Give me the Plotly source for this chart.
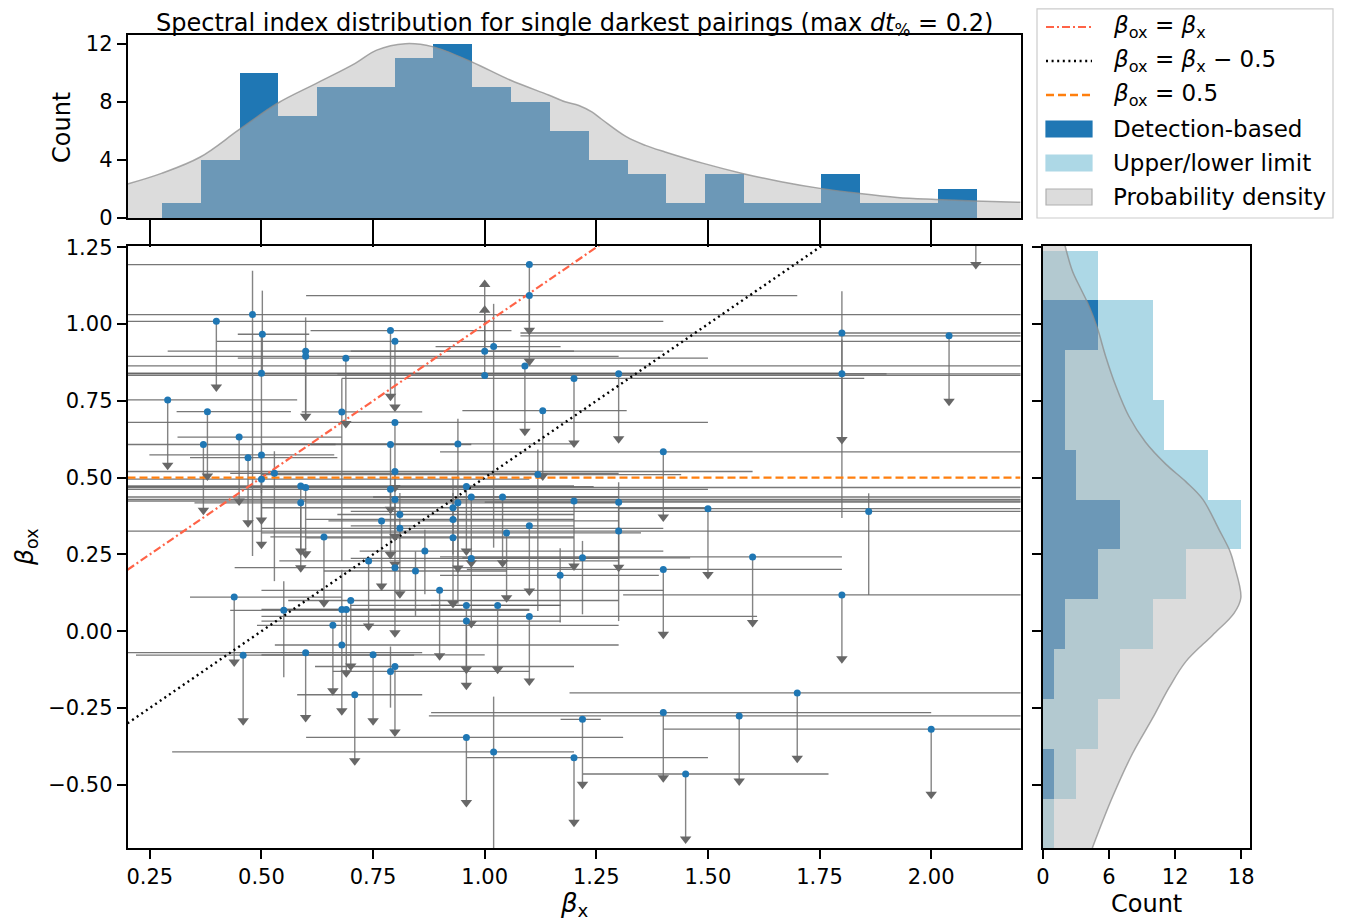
import numpy as np
import plotly.graph_objects as go

OFF = 8  # page body margin
W, H = 1347 - OFF, 921 - OFF
def px(v): return (v - OFF) / W
def py(v): return 1 - (v - OFF) / H

FONT = "DejaVu Sans"

# ---------------- data ----------------
# top marginal histogram (beta_x, detection-based)
top_edges = [0.276, 0.363, 0.450, 0.537, 0.624, 0.711, 0.797, 0.884, 0.971, 1.058, 1.145,
             1.232, 1.319, 1.406, 1.493, 1.580, 1.666, 1.753, 1.840, 1.927, 2.014, 2.101]
top_counts = [1, 4, 10, 7, 9, 9, 11, 12, 9, 8, 6, 4, 3, 1, 3, 1, 1, 3, 1, 1, 2]

top_kde_x = [0.200, 0.276, 0.363, 0.449, 0.536, 0.623, 0.710, 0.758, 0.822, 0.883, 0.970,
             1.057, 1.143, 1.180, 1.211, 1.240, 1.262, 1.317, 1.360, 1.404, 1.490, 1.577,
             1.664, 1.751, 1.837, 1.924, 2.011, 2.097, 2.200]
top_kde_y = [2.34, 3.07, 4.20, 6.06, 7.90, 9.27, 10.65, 11.56, 12.00, 11.80, 10.76,
             9.50, 8.47, 8.00, 7.75, 7.30, 6.80, 5.60, 5.00, 4.55, 3.76, 3.07,
             2.50, 2.04, 1.70, 1.42, 1.28, 1.17, 1.08]

# right marginal histogram (beta_ox), stacked
right_edges = [-0.706, -0.544, -0.381, -0.219, -0.057, 0.106, 0.268, 0.430, 0.592,
               0.755, 0.917, 1.079, 1.241]
right_det = [0, 1, 0, 1, 2, 5, 7, 3, 2, 2, 5, 0]
right_lim = [1, 2, 5, 6, 8, 8, 11, 12, 9, 8, 5, 5]

right_kde_count = [2.00, 2.67, 3.42, 4.18, 4.94, 5.70, 6.60, 7.80, 9.30, 11.15, 12.97,
                   14.50, 16.00, 17.00, 17.36, 17.97, 17.36, 15.40, 12.97, 11.45, 9.94,
                   8.12, 6.30, 4.48]
right_kde_y = [1.256, 1.173, 1.116, 1.059, 0.987, 0.894, 0.800, 0.700, 0.616, 0.544, 0.487,
               0.430, 0.330, 0.259, 0.216, 0.109, 0.059, -0.013, -0.099, -0.184, -0.284,
               -0.399, -0.541, -0.706]

# scatter: beta_x, beta_ox, x-range, limit kind, y-range
beta_x = [0.290, 0.379, 0.370, 0.450, 0.399, 0.480, 0.502, 0.500, 0.599, 0.599,
          0.689, 0.680, 0.789, 0.799, 0.799, 0.789, 0.470, 0.500, 0.500, 0.529,
          0.588, 0.599, 0.588, 0.640, 0.439, 0.550, 0.660, 0.680, 0.690, 0.700,
          0.680, 0.599, 0.459, 0.740, 0.769, 0.789, 0.799, 0.799, 0.810, 0.810,
          0.799, 0.845, 0.866, 0.709, 0.750, 0.799, 0.789, 1.100, 1.100, 1.000,
          1.000, 1.020, 1.090, 1.200, 1.300, 1.130, 0.940, 1.800, 1.800, 2.040,
          2.100, 1.400, 1.119, 0.959, 0.940, 0.929, 0.929, 0.929, 0.970, 1.040,
          0.970, 1.049, 1.100, 1.200, 1.300, 1.300, 1.219, 1.169, 1.400, 1.500,
          0.899, 0.959, 0.959, 1.029, 1.100, 1.860, 1.600, 1.800, 0.959, 1.020,
          1.219, 1.200, 1.400, 1.450, 1.570, 1.700, 2.000]
beta_ox = [0.753, 0.715, 0.608, 0.632, 1.009, 1.031, 0.967, 0.840, 0.912, 0.895,
           0.889, 0.714, 0.979, 0.944, 0.680, 0.608, 0.565, 0.574, 0.495, 0.514,
           0.473, 0.468, 0.418, 0.307, 0.111, 0.068, 0.019, 0.071, 0.071, 0.100,
           -0.045, -0.070, -0.078, 0.229, 0.359, 0.462, 0.520, 0.429, 0.380, 0.335,
           0.207, 0.196, 0.261, -0.207, -0.077, -0.115, -0.131, 1.194, 1.093, 0.912,
           0.833, 0.927, 0.864, 0.823, 0.838, 0.718, 0.610, 0.971, 0.838, 0.962,
           1.410, 0.584, 0.510, 0.471, 0.418, 0.402, 0.364, 0.304, 0.437, 0.437,
           0.237, 0.320, 0.343, 0.424, 0.420, 0.326, 0.239, 0.182, 0.201, 0.399,
           0.133, 0.084, 0.033, 0.084, 0.048, 0.390, 0.242, 0.118, -0.346, -0.393,
           -0.287, -0.412, -0.265, -0.465, -0.276, -0.201, -0.319]
beta_x_lo = [0.15, 0.310, 0.15, 0.312, 0.15, 0.15, 0.447, 0.15, 0.290, 0.15,
             0.447, 0.590, 0.610, 0.400, 0.15, 0.610, 0.340, 0.249, 0.15, 0.430,
             0.15, 0.15, 0.350, 0.520, 0.340, 0.430, 0.490, 0.550, 0.500, 0.560,
             0.530, 0.200, 0.219, 0.540, 0.650, 0.15, 0.15, 0.15, 0.670, 0.500,
             0.440, 0.640, 0.720, 0.580, 0.500, 0.620, 0.660, 0.15, 0.600, 0.700,
             0.15, 0.890, 0.15, 0.680, 0.15, 0.950, 0.500, 1.080, 0.670, 1.080,
             1.900, 0.900, 0.500, 0.15, 0.600, 0.500, 0.600, 0.600, 0.15, 0.750,
             0.700, 0.500, 0.700, 0.15, 1.000, 0.15, 0.950, 0.900, 0.960, 1.300,
             0.500, 0.880, 0.500, 0.700, 0.500, 0.700, 0.900, 1.310, 0.600, 0.300,
             1.170, 0.960, 0.880, 1.220, 0.875, 1.190, 1.400]
beta_x_hi = [0.580, 0.566, 0.666, 0.680, 1.400, 2.30, 0.607, 1.800, 1.200, 1.300,
             1.500, 0.860, 1.060, 2.30, 1.500, 0.970, 0.670, 0.663, 1.100, 1.300,
             1.200, 2.30, 0.590, 1.200, 0.680, 1.100, 1.300, 0.950, 1.100, 1.300,
             1.300, 0.860, 0.842, 1.300, 1.300, 1.500, 1.600, 2.30, 1.200, 1.400,
             1.200, 1.050, 1.400, 0.860, 1.000, 1.200, 1.100, 2.30, 1.700, 1.400,
             2.30, 1.170, 2.30, 1.850, 2.30, 1.318, 1.200, 2.30, 1.900, 2.30,
             2.30, 2.30, 1.440, 1.244, 1.300, 1.500, 1.200, 1.200, 2.30, 1.300,
             1.300, 1.350, 1.200, 2.30, 2.30, 2.30, 1.460, 1.390, 1.800, 2.30,
             1.400, 1.170, 1.170, 1.170, 1.610, 2.30, 1.800, 2.30, 1.310, 1.200,
             1.260, 1.500, 2.000, 1.770, 2.30, 2.30, 2.30]
limit_kind = ['u', 'u', 'u', 'u', 'u', 'd', 'd', 'd', 'u', 'd',
              'u', 'd', 'u', 'u', 'u', 'u', 'u', 'u', 'u', 'd',
              'u', 'u', 'u', 'u', 'u', 'd', 'u', 'd', 'u', 'u',
              'u', 'u', 'u', 'u', 'u', 'u', 'u', 'u', 'd', 'u',
              'u', 'd', 'd', 'u', 'u', 'u', 'd', 'u', 'u', 'l',
              'l', 'd', 'u', 'u', 'u', 'u', 'd', 'u', 'd', 'u',
              'u', 'u', 'd', 'u', 'u', 'd', 'd', 'u', 'u', 'u',
              'u', 'u', 'u', 'u', 'u', 'd', 'd', 'd', 'u', 'u',
              'u', 'u', 'u', 'u', 'u', 'd', 'u', 'u', 'u', 'd',
              'u', 'u', 'u', 'u', 'u', 'u', 'u']
beta_ox_lo = [0.540, 0.505, 0.394, 0.424, 0.795, 0.245, 0.840, 0.450, 0.700, 0.700,
              0.676, 0.229, 0.765, 0.730, 0.468, 0.397, 0.353, 0.362, 0.283, 0.163,
              0.261, 0.252, 0.207, 0.093, -0.100, -0.150, -0.194, -0.050, -0.135, -0.113,
              -0.259, -0.281, -0.292, 0.017, 0.147, 0.250, 0.308, 0.218, 0.300, 0.122,
              -0.005, 0.050, 0.120, -0.422, -0.292, -0.328, -0.249, 0.980, 0.879, 0.912,
              0.833, 0.272, 0.651, 0.613, 0.627, 0.505, 0.089, 0.624, 0.369, 0.749,
              1.194, 0.372, 0.066, 0.261, 0.206, 0.300, 0.250, 0.090, 0.223, 0.223,
              0.025, 0.109, 0.131, 0.212, 0.208, 0.033, 0.055, 0.028, -0.010, 0.185,
              -0.080, -0.124, -0.176, -0.124, -0.162, 0.118, 0.028, -0.090, -0.558, -0.800,
              -0.498, -0.622, -0.477, -0.677, -0.488, -0.414, -0.531]
beta_ox_hi = [0.753, 0.715, 0.608, 0.632, 1.009, 1.174, 1.109, 0.967, 0.912, 1.022,
              0.889, 0.823, 0.979, 0.944, 0.680, 0.608, 0.565, 0.574, 0.495, 0.586,
              0.473, 0.468, 0.418, 0.307, 0.111, 0.163, 0.019, 0.200, 0.071, 0.100,
              -0.045, -0.070, -0.078, 0.229, 0.359, 0.462, 0.520, 0.429, 0.450, 0.335,
              0.207, 0.260, 0.330, -0.207, -0.077, -0.115, -0.050, 1.194, 1.093, 1.129,
              1.045, 1.066, 0.864, 0.823, 0.838, 0.718, 0.692, 1.107, 0.950, 0.962,
              1.410, 0.584, 0.592, 0.471, 0.418, 0.500, 0.450, 0.304, 0.437, 0.437,
              0.237, 0.320, 0.343, 0.424, 0.420, 0.485, 0.294, 0.270, 0.201, 0.399,
              0.133, 0.084, 0.033, 0.084, 0.048, 0.449, 0.242, 0.118, -0.346, -0.213,
              -0.287, -0.412, -0.265, -0.465, -0.276, -0.201, -0.319]

x_ticks = [0.25, 0.50, 0.75, 1.00, 1.25, 1.50, 1.75, 2.00]
x_ticklabels = ["0.25", "0.50", "0.75", "1.00", "1.25", "1.50", "1.75", "2.00"]
y_ticks = [-0.50, -0.25, 0.00, 0.25, 0.50, 0.75, 1.00, 1.25]
y_ticklabels = ["\u22120.50", "\u22120.25", "0.00", "0.25", "0.50", "0.75", "1.00", "1.25"]
count_ticks_top = [0, 4, 8, 12]
count_ticks_right = [0, 6, 12, 18]

# ---------------- figure ----------------
fig = go.Figure()

BLUE = "#1f77b4"
LBLUE = "#add8e6"
KDE_FILL = "rgba(186,186,186,0.5)"
KDE_LINE = "rgba(140,140,140,0.75)"
ERR = "rgba(95,95,95,0.85)"

# top histogram
te = np.array(top_edges)
fig.add_trace(go.Bar(x=(te[:-1] + te[1:]) / 2, y=top_counts, width=np.diff(te),
                     marker=dict(color=BLUE, line=dict(width=0)),
                     xaxis="x2", yaxis="y2", showlegend=False))
fig.add_trace(go.Scatter(x=top_kde_x, y=top_kde_y, mode="lines",
                         line=dict(color=KDE_LINE, width=1.5, shape="spline"),
                         fill="tozeroy", fillcolor=KDE_FILL,
                         xaxis="x2", yaxis="y2", showlegend=False))

# right histogram (stacked)
re_ = np.array(right_edges)
rc = (re_[:-1] + re_[1:]) / 2
rw = np.diff(re_)
fig.add_trace(go.Bar(y=rc, x=right_det, width=rw, orientation="h",
                     marker=dict(color=BLUE, line=dict(width=0)),
                     xaxis="x3", yaxis="y3", showlegend=False))
fig.add_trace(go.Bar(y=rc, x=right_lim, width=rw, orientation="h",
                     marker=dict(color=LBLUE, line=dict(width=0)),
                     xaxis="x3", yaxis="y3", showlegend=False))
fig.add_trace(go.Scatter(x=right_kde_count, y=right_kde_y, mode="lines",
                         line=dict(color=KDE_LINE, width=1.5, shape="spline"),
                         fill="tozerox", fillcolor=KDE_FILL,
                         xaxis="x3", yaxis="y3", showlegend=False))

# main scatter
bx = np.array(beta_x); by = np.array(beta_ox)
bxl = np.array(beta_x_lo); bxh = np.array(beta_x_hi)
byl = np.array(beta_ox_lo); byh = np.array(beta_ox_hi)
kind = np.array(limit_kind)

fig.add_trace(go.Scatter(x=bx, y=by, mode="markers",
                         marker=dict(size=1, color="rgba(0,0,0,0)"),
                         error_x=dict(type="data", symmetric=False, array=bxh - bx,
                                      arrayminus=bx - bxl, width=0, thickness=1.3, color=ERR),
                         showlegend=False, hoverinfo="skip"))
fig.add_trace(go.Scatter(x=bx, y=by, mode="markers",
                         marker=dict(size=1, color="rgba(0,0,0,0)"),
                         error_y=dict(type="data", symmetric=False, array=byh - by,
                                      arrayminus=by - byl, width=0, thickness=1.4,
                                      color="rgba(110,110,110,0.85)"),
                         showlegend=False, hoverinfo="skip"))

# reference lines
xl = [0.2, 2.2]
fig.add_trace(go.Scatter(x=xl, y=xl, mode="lines",
                         line=dict(color="#ff6347", width=2.2, dash="8px,3px,2px,3px"),
                         showlegend=False))
fig.add_trace(go.Scatter(x=xl, y=[v - 0.5 for v in xl], mode="lines",
                         line=dict(color="black", width=2.4, dash="2px,3.6px"),
                         showlegend=False))
fig.add_trace(go.Scatter(x=xl, y=[0.5, 0.5], mode="lines",
                         line=dict(color="#ff7f0e", width=2.4, dash="8px,4px"),
                         showlegend=False))

# arrows
up = kind == "u"; lo = kind == "l"
fig.add_trace(go.Scatter(x=np.concatenate([bx[up], bx[lo]]),
                         y=np.concatenate([byl[up], byh[lo]]),
                         mode="markers",
                         marker=dict(symbol=["triangle-down"] * int(up.sum()) + ["triangle-up"] * int(lo.sum()),
                                     size=10, color="#676767", line=dict(width=0)),
                         showlegend=False, hoverinfo="skip"))
# dots
fig.add_trace(go.Scatter(x=bx, y=by, mode="markers",
                         marker=dict(size=7, color=BLUE, line=dict(width=0)),
                         showlegend=False))

# ---------------- layout ----------------
main_x = [px(127.5), px(1020.5)]
main_y = [py(848), py(245.5)]
top_y = [py(218), py(35)]
right_x = [px(1043), px(1250)]

def axis_common(ticklen=9):
    return dict(showline=True, linecolor="black", linewidth=1.6, mirror=True,
                ticks="outside", ticklen=ticklen, tickwidth=1.6, tickcolor="black",
                showgrid=False, zeroline=False, automargin=False,
                tickfont=dict(family=FONT, size=21, color="black"))

fig.update_layout(
    template="none",
    width=W, height=H, margin=dict(l=0, r=0, t=0, b=0, pad=0, autoexpand=False),
    paper_bgcolor="white", plot_bgcolor="white",
    barmode="stack", bargap=0,
    font=dict(family=FONT, color="black"),
    xaxis=dict(domain=main_x, range=[0.2, 2.2], anchor="y",
               tickmode="array", tickvals=x_ticks, ticktext=x_ticklabels, **axis_common()),
    yaxis=dict(domain=main_y, range=[-0.706, 1.256], anchor="x",
               tickmode="array", tickvals=y_ticks, ticktext=y_ticklabels, **axis_common()),
    xaxis2=dict(domain=main_x, range=[0.2, 2.2], anchor="y2", matches="x",
                tickmode="array", tickvals=x_ticks, showticklabels=False, **axis_common(27)),
    yaxis2=dict(domain=top_y, range=[0, 12.6], anchor="x2",
                tickmode="array", tickvals=count_ticks_top, **axis_common()),
    xaxis3=dict(domain=right_x, range=[0, 18.8], anchor="y3",
                tickmode="array", tickvals=count_ticks_right, **axis_common()),
    yaxis3=dict(domain=main_y, range=[-0.706, 1.256], anchor="x3", matches="y",
                tickmode="array", tickvals=y_ticks, showticklabels=False, **axis_common()),
)

ann = [
    dict(text="Spectral index distribution for single darkest pairings (max <i>dt</i><sub>%</sub> = 0.2)",
         x=px(574), y=1.0, yanchor="top", borderpad=0, font=dict(size=24)),
    dict(text="Count", x=px(62), y=py(128), textangle=-90, font=dict(size=24)),
    dict(text="<i>β</i><sub>ox</sub>", x=px(26), y=py(547), textangle=-90, font=dict(size=25)),
    dict(text="<i>β</i><sub>x</sub>", x=px(574), y=py(904), font=dict(size=26)),
    dict(text="Count", x=px(1146), y=py(904), font=dict(size=24)),
]
for a in ann:
    a.setdefault("yanchor", "middle")
    a.update(xref="paper", yref="paper", showarrow=False, xanchor="center")
    a["font"].update(family=FONT, color="black")

# custom legend
shapes = [dict(type="rect", xref="paper", yref="paper", x0=px(1037), x1=px(1333),
               y0=py(218), y1=py(8.8), line=dict(color="#cccccc", width=1.2), fillcolor="white")]
rows = [27, 61, 95, 129, 163, 197]
line_styles = [("#ff6347", "8px,3px,2px,3px", 2.2), ("black", "2px,3.6px", 2.4), ("#ff7f0e", "8px,4px", 2.4)]
for r, (c, d, wdt) in zip(rows[:3], line_styles):
    shapes.append(dict(type="line", xref="paper", yref="paper", x0=px(1046), x1=px(1092),
                       y0=py(r), y1=py(r), line=dict(color=c, dash=d, width=wdt)))
for r, (fc, lc) in zip(rows[3:], [(BLUE, BLUE), (LBLUE, LBLUE), ("#dcdcdc", "#b0b0b0")]):
    shapes.append(dict(type="rect", xref="paper", yref="paper", x0=px(1046), x1=px(1092),
                       y0=py(r + 8), y1=py(r - 8), fillcolor=fc, line=dict(color=lc, width=1.2)))
legend_texts = ["<i>β</i><sub>ox</sub> = <i>β</i><sub>x</sub>",
                "<i>β</i><sub>ox</sub> = <i>β</i><sub>x</sub> \u2212 0.5",
                "<i>β</i><sub>ox</sub> = 0.5",
                "Detection-based", "Upper/lower limit", "Probability density"]
for r, t in zip(rows, legend_texts):
    ann.append(dict(text=t, x=px(1111), y=py(r), xref="paper", yref="paper", showarrow=False,
                    xanchor="left", yanchor="middle", font=dict(family=FONT, size=23, color="black")))

fig.update_layout(annotations=ann, shapes=shapes)
fig.write_html("out.html")
